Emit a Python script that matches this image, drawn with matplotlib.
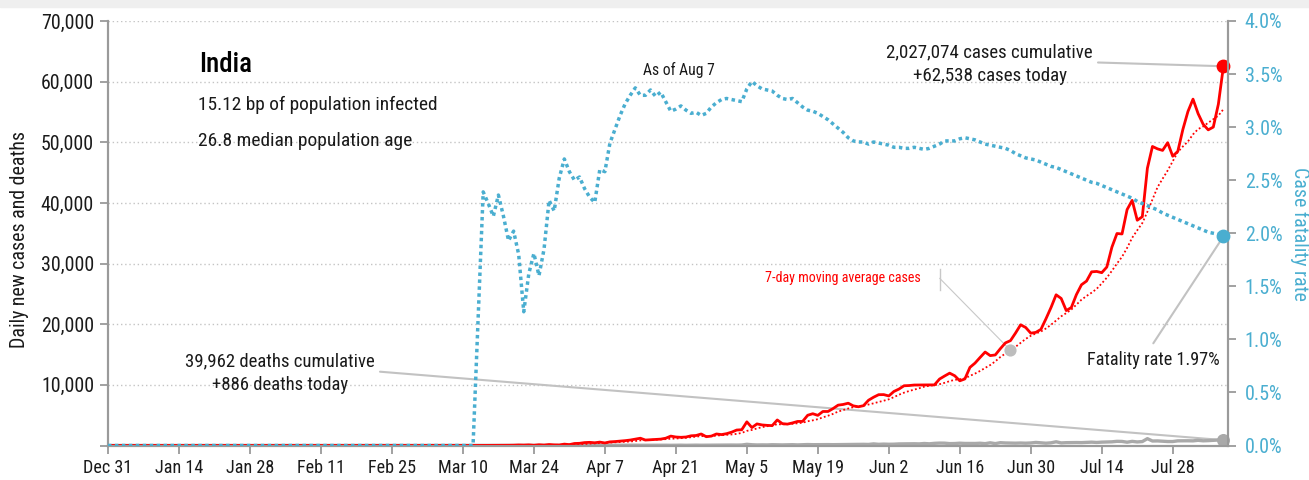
import numpy as np
import pandas as pd
import matplotlib
matplotlib.use("Agg")
import matplotlib.pyplot as plt
from matplotlib.patches import Rectangle

plt.rcParams['font.family'] = ['Roboto Condensed', 'DejaVu Sans']

# ---------------- data ----------------
start_date = "2019-12-31"
end_date = "2020-08-07"
first_case_date = "2020-03-01"   # daily series below start here (zero before)
first_cfr_date = "2020-03-12"    # fatality-rate series starts here (zero before)

cases_mar = [0, 2, 1, 22, 2, 1, 3, 5, 9, 15, 8, 10, 10, 12, 17, 15, 23, 14, 38, 50,
             86, 66, 103, 37, 121, 70, 160, 100, 82, 227, 146]
cases_apr = [330, 360, 480, 520, 450, 560, 420, 600, 650, 720, 800, 900, 1050, 1200, 900,
             950, 1000, 1050, 1200, 1550, 1400, 1350, 1400, 1600, 1650, 1900, 1450, 1550, 1900, 1800]
cases_may = [1950, 2200, 2550, 2600, 3900, 2958, 3561, 3390, 3320, 3277, 4213, 3604, 3525, 3722,
             3967, 3970, 4987, 5242, 4970, 5611, 5609, 6088, 6654, 6767, 6977, 6535, 6387, 6566,
             7466, 7964, 8380]
cases_jun = [8392, 8171, 8909, 9304, 9851, 9887, 9971, 9983, 9987, 9985, 9996, 10956, 11458,
             11929, 11502, 10667, 10974, 12881, 13586, 14516, 15413, 14821, 14933, 15968, 16922,
             17296, 18552, 19906, 19459, 18522]
cases_jul = [18653, 19148, 20903, 22771, 24850, 24248, 22252, 22752, 24879, 26506, 27114, 28637,
             28701, 28498, 29429, 32695, 34956, 34884, 38902, 40425, 37148, 37724, 45720, 49310,
             48916, 48661, 49931, 47703, 48513, 52123, 55079]
cases_aug = [57118, 54735, 52972, 52050, 52509, 56282, 62538]

deaths_mar = [0, 0, 0, 0, 0, 0, 0, 0, 0, 0, 0, 1, 1, 0, 0, 0, 1, 0, 1, 1, 0, 3, 2, 3, 1, 5, 4,
              3, 6, 11, 3]
deaths_apr = [9, 18, 21, 19, 25, 19, 35, 30, 29, 40, 35, 34, 51, 35, 38, 26, 27, 33, 43, 31, 47,
              51, 33, 46, 56, 44, 51, 60, 67, 75]
deaths_may = [72, 77, 68, 83, 195, 126, 89, 103, 95, 128, 111, 97, 122, 134, 100, 120, 157, 134,
              140, 132, 148, 137, 146, 154, 146, 170, 175, 194, 175, 265, 193]
deaths_jun = [230, 204, 217, 260, 273, 294, 287, 266, 331, 279, 357, 396, 386, 311, 325, 380,
              340, 334, 336, 375, 306, 445, 312, 465, 418, 407, 384, 410, 380, 418]
deaths_jul = [507, 434, 379, 442, 613, 425, 467, 482, 487, 475, 519, 551, 500, 553, 582, 606, 687,
              671, 543, 681, 587, 648, 1129, 740, 757, 705, 654, 654, 768, 775, 779]
deaths_aug = [764, 853, 771, 803, 857, 904, 886]

# case fatality rate in percent, from Mar 12
cfr_mar = [0, 1.20, 2.39, 2.28, 2.16, 2.36, 2.16, 1.93, 2.02, 1.80, 1.26, 1.62, 1.81, 1.60, 1.85,
           2.31, 2.21, 2.52, 2.70, 2.58]
cfr_apr = [2.50, 2.53, 2.42, 2.34, 2.29, 2.60, 2.58, 2.85, 2.98, 3.11, 3.22, 3.30, 3.37, 3.30,
           3.30, 3.35, 3.29, 3.33, 3.24, 3.15, 3.17, 3.20, 3.16, 3.13, 3.14, 3.11, 3.13, 3.19,
           3.23, 3.26]
cfr_may = [3.27, 3.26, 3.25, 3.24, 3.36, 3.43, 3.39, 3.36, 3.35, 3.34, 3.30, 3.27, 3.26, 3.27,
           3.23, 3.19, 3.16, 3.15, 3.13, 3.10, 3.07, 3.03, 2.99, 2.95, 2.90, 2.87, 2.86, 2.86,
           2.84, 2.86, 2.85]
cfr_jun = [2.84, 2.83, 2.81, 2.81, 2.80, 2.80, 2.81, 2.80, 2.79, 2.80, 2.82, 2.84, 2.87, 2.87,
           2.87, 2.89, 2.90, 2.89, 2.88, 2.86, 2.84, 2.83, 2.82, 2.81, 2.80, 2.78, 2.75, 2.73,
           2.71, 2.70]
cfr_jul = [2.69, 2.67, 2.65, 2.63, 2.62, 2.60, 2.58, 2.56, 2.54, 2.52, 2.50, 2.48, 2.47, 2.45,
           2.43, 2.41, 2.39, 2.37, 2.35, 2.33, 2.30, 2.28, 2.26, 2.24, 2.22, 2.19, 2.17, 2.15,
           2.13, 2.11, 2.09]
cfr_aug = [2.07, 2.05, 2.03, 2.01, 2.00, 1.99, 1.97]

ma_label_date = "2020-06-26"

xtick_labels = ["Dec 31", "Jan 14", "Jan 28", "Feb 11", "Feb 25", "Mar 10", "Mar 24", "Apr 7",
                "Apr 21", "May 5", "May 19", "Jun 2", "Jun 16", "Jun 30", "Jul 14", "Jul 28"]
ytick_left = [0, 10000, 20000, 30000, 40000, 50000, 60000, 70000]
ytick_left_labels = ["", "10,000", "20,000", "30,000", "40,000", "50,000", "60,000", "70,000"]
ytick_right = [0, 0.5, 1.0, 1.5, 2.0, 2.5, 3.0, 3.5, 4.0]

title = "India"
subtitle1 = "15.12 bp of population infected"
subtitle2 = "26.8 median population age"
cases_note1 = "2,027,074 cases cumulative"
cases_note2 = "+62,538 cases today"
deaths_note1 = "39,962 deaths cumulative"
deaths_note2 = "+886 deaths today"
cfr_note = "Fatality rate 1.97%"
asof_note = "As of Aug 7"
ma_note = "7-day moving average cases"
ylabel_left = "Daily new cases and deaths"
ylabel_right = "Case fatality rate"

# ---------------- series ----------------
dates = pd.date_range(start_date, end_date, freq="D")
cases_vals = cases_mar + cases_apr + cases_may + cases_jun + cases_jul + cases_aug
deaths_vals = deaths_mar + deaths_apr + deaths_may + deaths_jun + deaths_jul + deaths_aug
cfr_vals = cfr_mar + cfr_apr + cfr_may + cfr_jun + cfr_jul + cfr_aug

cases = pd.Series(0.0, index=dates)
cases[pd.date_range(first_case_date, end_date)] = cases_vals
deaths = pd.Series(0.0, index=dates)
deaths[pd.date_range(first_case_date, end_date)] = deaths_vals
cfr = pd.Series(0.0, index=dates)
cfr[pd.date_range(first_cfr_date, end_date)] = cfr_vals
ma7 = cases.rolling(7, min_periods=1).mean()

RED = "#ff0000"
BLUE = "#4aaed0"
GRAY = "#a9a9a9"
SPINE = "#9a9a9a"
TXT = "#1a1a1a"

fig = plt.figure(figsize=(13.09, 4.8), dpi=100)
renderer = fig.canvas.get_renderer()


def fit_size(s, width_px, weight="normal"):
    """font size (pt) giving the rendered width seen in the reference"""
    t = fig.text(0, 0, s, fontsize=20, weight=weight)
    w = t.get_window_extent(renderer).width
    t.remove()
    return 20 * width_px / w


fig.patches.append(Rectangle((0, 1 - 7 / 480), 1, 7 / 480, transform=fig.transFigure,
                             color="#efefef", zorder=0))
ax = fig.add_axes([108 / 1309, 34.5 / 480, 1120 / 1309, 424.5 / 480])
ax2 = ax.twinx()

x0 = pd.Timestamp(start_date)
ax.set_xlim(x0, pd.Timestamp(end_date) + pd.Timedelta(days=0.9))
ax.set_ylim(0, 70000)
ax2.set_ylim(0, 4.0)

for v in ytick_left[1:]:
    ax.axhline(v, color="#c4c4c4", lw=1.0, ls=(0, (1, 2)), zorder=1)


def connector(axis, xy, xyfrac, lw=1.5, color="#c2c2c2"):
    axis.annotate("", xy=xy, xycoords="data", xytext=xyfrac, textcoords="axes fraction",
                  arrowprops=dict(arrowstyle="-", color=color, lw=lw, shrinkA=0, shrinkB=0),
                  zorder=2)


last = dates[-1]
connector(ax, (last, cases.iloc[-1]), (990 / 1120, (445.5 - 62.5) / 424.5))
connector(ax, (last, deaths.iloc[-1]), (272 / 1120, (445.5 - 371.7) / 424.5))
ma_pt = pd.Timestamp(ma_label_date)
connector(ax, (ma_pt, ma7[ma_pt]), (831.7 / 1120, (445.5 - 278.3) / 424.5), lw=0.8,
          color="#c8c8c8")
ax.plot([831.7 / 1120, 831.7 / 1120], [(445.5 - 269) / 424.5, (445.5 - 290) / 424.5],
        transform=ax.transAxes, color="#c8c8c8", lw=1.0, zorder=2)

ax.plot(dates, deaths.values, color=GRAY, lw=2.4, zorder=3, solid_joinstyle="round")
ax.plot(dates, ma7.values, color=RED, lw=1.3, ls=(0, (1, 1.3)), zorder=4)
ax.plot(dates, cases.values, color=RED, lw=2.0, zorder=5, solid_joinstyle="round")
ax.scatter([last], [cases.iloc[-1]], s=80, color=RED, zorder=7, clip_on=False)
ax.scatter([last], [deaths.iloc[-1]], s=70, color=GRAY, zorder=7, clip_on=False)
ax.scatter([ma_pt], [ma7[ma_pt]], s=60, color="#bdbdbd", zorder=7)

connector(ax2, (last, cfr.iloc[-1]), (1045.3 / 1120, (445.5 - 343.3) / 424.5))
ax2.plot(dates, cfr.values, color=BLUE, lw=2.5, ls=(0, (1, 1)), zorder=4)
ax2.scatter([last], [cfr.iloc[-1]], s=80, color=BLUE, zorder=7, clip_on=False)

tick_dates = [x0 + pd.Timedelta(days=14 * i) for i in range(len(xtick_labels))]
ax.set_xticks(tick_dates)
ax.set_xticklabels(xtick_labels)
ax.set_yticks(ytick_left)
ax.set_yticklabels(ytick_left_labels)
ax2.set_yticks(ytick_right)
ax2.set_yticklabels([f"{v:.1f}%" for v in ytick_right])

fs_ytick = fit_size("70,000", 53)
fs_xtick = fit_size("Jan 14", 48)
fs_rtick = fit_size("4.0%", 37.7)

for a in (ax, ax2):
    a.spines["top"].set_visible(False)
    for s in ("left", "right", "bottom"):
        a.spines[s].set_color(SPINE)
        a.spines[s].set_linewidth(1.5)
ax.tick_params(axis="x", colors=SPINE, length=6, width=1.3, labelsize=fs_xtick, labelcolor=TXT, pad=4)
ax.tick_params(axis="y", colors=SPINE, length=6, width=1.3, labelsize=fs_ytick, labelcolor=TXT, pad=4)
ax2.tick_params(axis="y", colors=SPINE, length=6, width=1.3, labelsize=fs_rtick, labelcolor=BLUE, pad=6)

ax.set_ylabel(ylabel_left, fontsize=fit_size(ylabel_left, 217), color=TXT, va="center")
ax.yaxis.set_label_coords((20 - 108) / 1120, (445.5 - 239.5) / 424.5)
ax2.set_ylabel(ylabel_right, fontsize=fit_size(ylabel_right, 133), color=BLUE, rotation=270,
               va="center")
ax2.yaxis.set_label_coords((1300 - 108) / 1120, (445.5 - 233.5) / 424.5)


def ftxt(fx_px, fy_px, s, width_px, weight="normal", **kw):
    ax.text((fx_px - 108) / 1120, (445.5 - fy_px) / 424.5, s, transform=ax.transAxes,
            fontsize=fit_size(s, width_px, weight), weight=weight, **kw)


ftxt(199, 65, title, 53, weight="medium", color="black", ha="left", va="center")
ftxt(198, 105, subtitle1, 239, color=TXT, ha="left", va="center")
ftxt(198, 141, subtitle2, 213, color=TXT, ha="left", va="center")
ftxt(989, 52, cases_note1, 206, color=TXT, ha="center", va="center")
ftxt(990, 76, cases_note2, 154, color=TXT, ha="center", va="center")
ftxt(279.5, 361, deaths_note1, 189, color=TXT, ha="center", va="center")
ftxt(280, 385, deaths_note2, 136, color=TXT, ha="center", va="center")
ftxt(1153.5, 360, cfr_note, 133, color=TXT, ha="center", va="center")
ftxt(679, 70, asof_note, 72, color=TXT, ha="center", va="center")
ftxt(843, 278, ma_note, 156, color=RED, ha="center", va="center")

fig.savefig("out.png", dpi=100, facecolor="white")
